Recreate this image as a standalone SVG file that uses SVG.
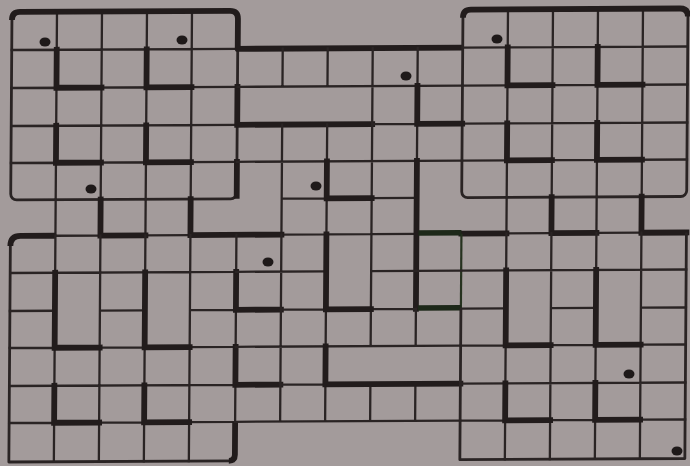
<svg xmlns="http://www.w3.org/2000/svg" width="690" height="466" viewBox="0 0 690 466">
<style>
.t{fill:none;stroke:#2a2424;stroke-width:2.3;stroke-linecap:square}
.m{fill:none;stroke:#2a2424;stroke-width:2.8;stroke-linejoin:round}
.k{fill:none;stroke:#221c1c;stroke-width:5.8;stroke-linecap:square}
.kr{fill:none;stroke:#221c1c;stroke-width:5.8;stroke-linejoin:round}
.g{fill:none;stroke:#1d2819;stroke-width:5.5}
.gt{fill:none;stroke:#26321f;stroke-width:2.2}
.dot{fill:#1e1919}
</style>
<rect width="690" height="466" fill="#a39b9b"/>
<g transform="matrix(1 -0.0052 -0.007 1 0.08 0.06)">
<g id="block-upper-left">
<rect class="m" x="12" y="12" width="226" height="188" rx="6"/>
<path class="t" d="M57,12V200M102,12V200M147,12V200M192,12V200M12,50H238M12,88H238M12,126H238M12,163H238"/>
<path class="kr" d="M12,20Q12,12 20,12H230Q238,12 238,20V50H463"/>
<path class="k" d="M57,50V88H102M147,50V88H192M57,126V163H102M147,126V163H192"/>
<path class="k" d="M238,88V126H373M238,163V197"/>
</g>
<g id="block-upper-right">
<rect class="m" x="463" y="12" width="225" height="188" rx="6"/>
<path class="t" d="M508,12V200M553,12V200M598,12V200M643,12V200M463,50H688M463,88H688M463,126H688M463,163H688"/>
<path class="kr" d="M463,20Q463,12 471,12H680Q688,12 688,20"/>
<path class="k" d="M508,50V88H553M598,50V88H643M508,126V163H553M598,126V163H643"/>
</g>
<g id="middle-upper">
<path class="t" d="M283,50V88M328,50V88M373,50V88M418,50V88M238,88H463M373,88V126M373,126H418M283,126V163M328,126V163M373,126V163M418,126V163M238,163H463M283,163V236M373,163V236M283,200H328M373,200H418M328,200V236M283,236H418"/>
<path class="k" d="M418,88V126H463M328,163V200H373M418,163V311"/>
</g>
<g id="band-left">
<path class="t" d="M57,200V236M147,200V236M57,236H102M147,236H192"/>
<path class="k" d="M102,200V236H147M192,200V236H283"/>
</g>
<g id="band-right">
<path class="t" d="M508,200V236M598,200V236M508,236H553M598,236H643"/>
<path class="k" d="M553,200V236H598M643,200V236H688M463,236H508"/>
</g>
<g id="green-box">
<path class="t" d="M418,273H463"/>
<path class="gt" d="M463,236V311"/>
<path class="g" d="M420,235H463M420,310H463"/>
</g>
<g id="block-lower-left">
<path class="m" d="M12,240V462H238"/>
<path class="kr" d="M12,246Q12,236 22,236H57"/>
<path class="t" d="M102,236V462M192,236V462M57,236V273M57,348V386M57,423V462M147,236V273M147,348V386M147,423V462M12,273H238M12,311H57M102,311H147M192,311H238M12,348H57M102,348H147M192,348H238M12,386H238M12,423H57M102,423H147M192,423H238M238,236V273M238,311V348M238,386V423"/>
<path class="k" d="M57,273V348H102M147,273V348H192M57,386V423H102M147,386V423H192M238,273V311H283M238,348V386H283"/>
<path class="kr" d="M238,423V456Q238,462 232,462"/>
</g>
<g id="middle-lower">
<path class="t" d="M283,236V423M328,311V348M328,386V423M373,236V348M373,386V423M418,311V348M418,386V423M238,273H328M373,273H418M283,311H328M373,311H418M238,348H463M283,386H328M238,423H463"/>
<path class="k" d="M328,236V311H373M328,348V386H463"/>
</g>
<g id="block-lower-right">
<path class="m" d="M463,311V462H688V236"/>
<path class="t" d="M553,236V462M643,236V462M508,236V273M508,348V386M508,423V462M598,236V273M598,348V386M598,423V462M463,273H688M463,311H508M553,311H598M643,311H688M463,386H688M463,348H508M553,348H598M643,348H688M463,423H508M553,423H598M643,423H688"/>
<path class="k" d="M508,273V348H553M598,273V348H643M508,386V423H553M598,386V423H643"/>
</g>
</g>
<g id="dots">
<ellipse class="dot" cx="45" cy="42" rx="5.5" ry="4.5"/>
<ellipse class="dot" cx="182" cy="40" rx="5.5" ry="4.5"/>
<ellipse class="dot" cx="91" cy="189" rx="5.5" ry="4.5"/>
<ellipse class="dot" cx="406" cy="76" rx="5.5" ry="4.5"/>
<ellipse class="dot" cx="316" cy="186" rx="5.5" ry="4.5"/>
<ellipse class="dot" cx="497" cy="39" rx="5.5" ry="4.5"/>
<ellipse class="dot" cx="268" cy="262" rx="5.5" ry="4.5"/>
<ellipse class="dot" cx="629" cy="374" rx="5.5" ry="4.5"/>
<ellipse class="dot" cx="677" cy="451" rx="5.5" ry="4.5"/>
</g>
</svg>
